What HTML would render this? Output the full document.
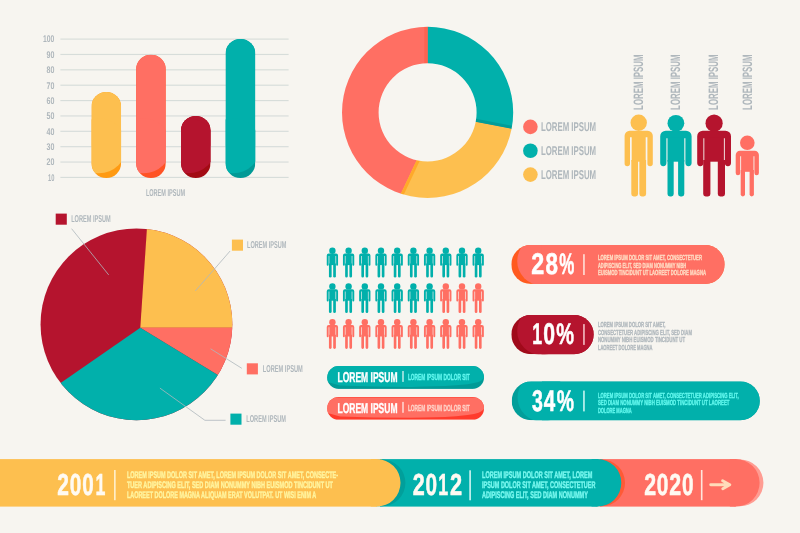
<!DOCTYPE html>
<html><head><meta charset="utf-8"><title>Infographic</title>
<style>
html,body{margin:0;padding:0;background:#f7f5f0;}
body{width:800px;height:533px;overflow:hidden;}
svg{display:block;will-change:transform;text-rendering:geometricPrecision;font-family:"Liberation Sans",sans-serif;font-weight:bold;}
</style></head><body>
<svg width="800" height="533" viewBox="0 0 800 533">
<rect width="800" height="533" fill="#f7f5f0"/>
<g opacity="0.999">
<rect x="60.4" y="38.52" width="228.2" height="1.15" fill="#d7ddda"/>
<text x="43.1" y="42.4" font-size="9.7" fill="#afb7bc" textLength="11.3" lengthAdjust="spacingAndGlyphs">100</text>
<rect x="60.4" y="53.89" width="228.2" height="1.15" fill="#d7ddda"/>
<text x="46.5" y="57.77" font-size="9.7" fill="#afb7bc" textLength="7.9" lengthAdjust="spacingAndGlyphs">90</text>
<rect x="60.4" y="69.26" width="228.2" height="1.15" fill="#d7ddda"/>
<text x="46.5" y="73.14" font-size="9.7" fill="#afb7bc" textLength="7.9" lengthAdjust="spacingAndGlyphs">80</text>
<rect x="60.4" y="84.63" width="228.2" height="1.15" fill="#d7ddda"/>
<text x="46.5" y="88.51" font-size="9.7" fill="#afb7bc" textLength="7.9" lengthAdjust="spacingAndGlyphs">70</text>
<rect x="60.4" y="100.00" width="228.2" height="1.15" fill="#d7ddda"/>
<text x="46.5" y="103.88" font-size="9.7" fill="#afb7bc" textLength="7.9" lengthAdjust="spacingAndGlyphs">60</text>
<rect x="60.4" y="115.37" width="228.2" height="1.15" fill="#d7ddda"/>
<text x="46.5" y="119.25" font-size="9.7" fill="#afb7bc" textLength="7.9" lengthAdjust="spacingAndGlyphs">50</text>
<rect x="60.4" y="130.74" width="228.2" height="1.15" fill="#d7ddda"/>
<text x="46.5" y="134.62" font-size="9.7" fill="#afb7bc" textLength="7.9" lengthAdjust="spacingAndGlyphs">40</text>
<rect x="60.4" y="146.11" width="228.2" height="1.15" fill="#d7ddda"/>
<text x="46.5" y="149.99" font-size="9.7" fill="#afb7bc" textLength="7.9" lengthAdjust="spacingAndGlyphs">30</text>
<rect x="60.4" y="161.48" width="228.2" height="1.15" fill="#d7ddda"/>
<text x="46.5" y="165.36" font-size="9.7" fill="#afb7bc" textLength="7.9" lengthAdjust="spacingAndGlyphs">20</text>
<rect x="60.4" y="176.85" width="228.2" height="1.15" fill="#d7ddda"/>
<text x="48.0" y="180.73" font-size="9.7" fill="#afb7bc" textLength="6.4" lengthAdjust="spacingAndGlyphs">10</text>
<clipPath id="bc0"><rect x="91.5" y="92.0" width="29.60" height="86.00" rx="14.80"/></clipPath>
<g clip-path="url(#bc0)"><rect x="91.5" y="92.0" width="29.60" height="86.00" fill="#ff9a12"/><rect x="91.5" y="92.0" width="29.60" height="53.80" fill="#fdbf4f"/><circle cx="98.95" cy="145.80" r="27.5" fill="#fdbf4f"/></g>
<clipPath id="bc1"><rect x="136.1" y="54.7" width="29.70" height="123.30" rx="14.85"/></clipPath>
<g clip-path="url(#bc1)"><rect x="136.1" y="54.7" width="29.70" height="123.30" fill="#ff5325"/><rect x="136.1" y="54.7" width="29.70" height="91.10" fill="#ff6f63"/><circle cx="143.60" cy="145.80" r="27.5" fill="#ff6f63"/></g>
<clipPath id="bc2"><rect x="181.0" y="115.9" width="29.60" height="62.10" rx="14.80"/></clipPath>
<g clip-path="url(#bc2)"><rect x="181.0" y="115.9" width="29.60" height="62.10" fill="#a30b14"/><rect x="181.0" y="115.9" width="29.60" height="29.90" fill="#b5142e"/><circle cx="188.45" cy="145.80" r="27.5" fill="#b5142e"/></g>
<clipPath id="bc3"><rect x="225.6" y="39.0" width="29.70" height="139.00" rx="14.85"/></clipPath>
<g clip-path="url(#bc3)"><rect x="225.6" y="39.0" width="29.70" height="139.00" fill="#009a96"/><rect x="225.6" y="39.0" width="29.70" height="106.80" fill="#00b0ab"/><circle cx="233.10" cy="145.80" r="27.5" fill="#00b0ab"/></g>
<text x="145.9" y="196" font-size="10.0" fill="#afb7bc" textLength="39.2" lengthAdjust="spacingAndGlyphs">LOREM IPSUM</text>
<clipPath id="dn"><path d="M342.0,112.4 a85.6,85.6 0 1 0 171.2,0 a85.6,85.6 0 1 0 -171.2,0 Z M378.6,112.4 a49.0,49.0 0 1 1 98.0,0 a49.0,49.0 0 1 1 -98.0,0 Z" clip-rule="evenodd"/></clipPath>
<g clip-path="url(#dn)">
<rect x="340.0" y="24.80000000000001" width="175.2" height="175.2" fill="#ff6f63"/>
<polygon points="427.60,112.40 427.60,-187.60 727.60,-187.60 722.09,169.64" fill="#00b0ab"/>
<polygon points="427.60,112.40 722.09,169.64 727.60,412.40 332.49,338.48 439.30,112.40" fill="#fdbf4f"/>
<rect x="424.3" y="24.80000000000001" width="3.3" height="42.599999999999994" fill="#ff6350"/>
<polygon points="427.60,112.40 722.09,169.64 722.66,166.70 428.17,109.46" fill="#009c98"/>
<polygon points="439.30,112.40 332.49,338.48 335.21,339.76 442.01,113.68" fill="#ffa92a"/>
</g>
<circle cx="530.4" cy="126.85" r="7.3" fill="#ff6f63"/>
<text x="540.9" y="131.25" font-size="12.8" fill="#afb7bc" textLength="55.2" lengthAdjust="spacingAndGlyphs">LOREM IPSUM</text>
<circle cx="530.4" cy="150.75" r="7.3" fill="#00b0ab"/>
<text x="540.9" y="155.15" font-size="12.8" fill="#afb7bc" textLength="55.2" lengthAdjust="spacingAndGlyphs">LOREM IPSUM</text>
<circle cx="530.4" cy="174.6" r="7.3" fill="#fdbf4f"/>
<text x="540.9" y="179.0" font-size="12.8" fill="#afb7bc" textLength="55.2" lengthAdjust="spacingAndGlyphs">LOREM IPSUM</text>
<g fill="#fdbf4f"><circle cx="638.7" cy="122.80" r="8.2"/><path d="M624.60,163.50 V135.83 A5.13,5.13 0 0 1 629.73,130.70 H647.67 A5.13,5.13 0 0 1 652.80,135.83 V163.50 a2.70,2.70 0 0 1 -5.40,0 V137.18 H630.00 V163.50 a2.70,2.70 0 0 1 -5.40,0 Z"/><rect x="631.70" y="136.18" width="14.00" height="25.52"/><path d="M631.30,160.00 H638.05 V194.00 a2.40,2.40 0 0 1 -2.40,2.40 H633.70 a2.40,2.40 0 0 1 -2.40,-2.40 Z"/><path d="M639.35,160.00 H646.10 V194.00 a2.40,2.40 0 0 1 -2.40,2.40 H641.75 a2.40,2.40 0 0 1 -2.40,-2.40 Z"/></g>
<g fill="#00b0ab"><circle cx="675.9" cy="123.30" r="8.4"/><path d="M660.20,163.10 V136.30 A5.60,5.60 0 0 1 665.80,130.70 H686.00 A5.60,5.60 0 0 1 691.60,136.30 V163.10 a3.10,3.10 0 0 1 -6.20,0 V138.14 H666.40 V163.10 a3.10,3.10 0 0 1 -6.20,0 Z"/><rect x="667.50" y="137.14" width="16.80" height="24.56"/><path d="M667.50,160.00 H673.70 V194.00 a2.40,2.40 0 0 1 -2.40,2.40 H669.90 a2.40,2.40 0 0 1 -2.40,-2.40 Z"/><path d="M678.10,160.00 H684.30 V194.00 a2.40,2.40 0 0 1 -2.40,2.40 H680.50 a2.40,2.40 0 0 1 -2.40,-2.40 Z"/></g>
<g fill="#b5142e"><circle cx="714.1" cy="123.20" r="8.6"/><path d="M697.20,163.10 V136.30 A5.60,5.60 0 0 1 702.80,130.70 H725.40 A5.60,5.60 0 0 1 731.00,136.30 V163.10 a3.10,3.10 0 0 1 -6.20,0 V138.14 H703.40 V163.10 a3.10,3.10 0 0 1 -6.20,0 Z"/><rect x="704.30" y="137.14" width="19.60" height="24.56"/><path d="M703.20,160.00 H710.40 V194.00 a2.40,2.40 0 0 1 -2.40,2.40 H705.60 a2.40,2.40 0 0 1 -2.40,-2.40 Z"/><path d="M717.80,160.00 H725.00 V194.00 a2.40,2.40 0 0 1 -2.40,2.40 H720.20 a2.40,2.40 0 0 1 -2.40,-2.40 Z"/></g>
<g fill="#ff6f63"><circle cx="747.3" cy="142.80" r="7.3"/><path d="M735.70,172.95 V155.08 A4.27,4.27 0 0 1 739.97,150.80 H754.62 A4.27,4.27 0 0 1 758.90,155.08 V172.95 a2.25,2.25 0 0 1 -4.50,0 V156.20 H740.20 V172.95 a2.25,2.25 0 0 1 -4.50,0 Z"/><rect x="741.10" y="155.20" width="12.40" height="16.60"/><path d="M740.70,170.10 H745.00 V194.25 a2.15,2.15 0 0 1 -2.15,2.15 H742.85 a2.15,2.15 0 0 1 -2.15,-2.15 Z"/><path d="M749.60,170.10 H753.90 V194.25 a2.15,2.15 0 0 1 -2.15,2.15 H751.75 a2.15,2.15 0 0 1 -2.15,-2.15 Z"/></g>
<g transform="translate(643.0,109.9) rotate(-90)"><text x="0" y="0" font-size="13.6" fill="#afb7bc" textLength="55.4" lengthAdjust="spacingAndGlyphs">LOREM IPSUM</text></g>
<g transform="translate(680.3,109.9) rotate(-90)"><text x="0" y="0" font-size="13.6" fill="#afb7bc" textLength="55.4" lengthAdjust="spacingAndGlyphs">LOREM IPSUM</text></g>
<g transform="translate(718.4,109.9) rotate(-90)"><text x="0" y="0" font-size="13.6" fill="#afb7bc" textLength="55.4" lengthAdjust="spacingAndGlyphs">LOREM IPSUM</text></g>
<g transform="translate(752.0,109.9) rotate(-90)"><text x="0" y="0" font-size="13.6" fill="#afb7bc" textLength="55.4" lengthAdjust="spacingAndGlyphs">LOREM IPSUM</text></g>
<clipPath id="pie"><circle cx="136.45" cy="324.3" r="95.9"/></clipPath>
<g clip-path="url(#pie)">
<rect x="30" y="220" width="220" height="210" fill="#b5142e"/>
<polygon points="140.30,327.80 160.10,31.40 500.00,-100.00 416.60,327.80" fill="#fdbf4f"/>
<polygon points="140.30,327.80 416.60,327.80 500.00,500.00 371.30,468.20" fill="#ff6f63"/>
<polygon points="140.30,327.80 371.30,468.20 300.00,700.00 -100.00,700.00 -97.60,492.50" fill="#00b0ab"/>
</g>
<rect x="55.7" y="213.6" width="11.1" height="11.1" fill="#b5142e"/>
<text x="71.2" y="222" font-size="10.0" fill="#afb7bc" textLength="39.5" lengthAdjust="spacingAndGlyphs">LOREM IPSUM</text>
<rect x="231.9" y="239.6" width="11.1" height="11.1" fill="#fdbf4f"/>
<text x="247.0" y="248" font-size="10.0" fill="#afb7bc" textLength="39.4" lengthAdjust="spacingAndGlyphs">LOREM IPSUM</text>
<rect x="246.8" y="363.3" width="11.1" height="11.1" fill="#ff6f63"/>
<text x="262.8" y="372" font-size="10.0" fill="#afb7bc" textLength="40.0" lengthAdjust="spacingAndGlyphs">LOREM IPSUM</text>
<rect x="230.4" y="413.6" width="11.1" height="11.1" fill="#00b0ab"/>
<text x="246.3" y="422" font-size="10.0" fill="#afb7bc" textLength="39.6" lengthAdjust="spacingAndGlyphs">LOREM IPSUM</text>
<path d="M71.6,228.7 L108.7,274.9" stroke="#afb7bc" stroke-width="0.8" fill="none"/>
<path d="M230.1,251 L195.3,291" stroke="#afb7bc" stroke-width="0.8" fill="none"/>
<path d="M210.6,348.8 L241.8,368.3" stroke="#afb7bc" stroke-width="0.8" fill="none"/>
<path d="M159.9,388.1 L204.9,420.3 H225.6" stroke="#afb7bc" stroke-width="0.8" fill="none"/>
<g fill="#00b0ab"><circle cx="332.4" cy="250.80" r="3.2"/><path d="M326.75,264.85 V255.60 A2.00,2.00 0 0 1 328.75,253.60 H336.05 A2.00,2.00 0 0 1 338.05,255.60 V264.85 a0.95,0.95 0 0 1 -1.90,0 V255.88 H328.65 V264.85 a0.95,0.95 0 0 1 -1.90,0 Z"/><rect x="329.30" y="254.88" width="6.20" height="10.22"/><path d="M328.95,263.40 H331.60 V276.18 a1.33,1.33 0 0 1 -1.33,1.33 H330.27 a1.33,1.33 0 0 1 -1.33,-1.33 Z"/><path d="M333.20,263.40 H335.85 V276.18 a1.33,1.33 0 0 1 -1.33,1.33 H334.52 a1.33,1.33 0 0 1 -1.33,-1.33 Z"/></g>
<g fill="#00b0ab"><circle cx="348.6" cy="250.80" r="3.2"/><path d="M342.95,264.85 V255.60 A2.00,2.00 0 0 1 344.95,253.60 H352.25 A2.00,2.00 0 0 1 354.25,255.60 V264.85 a0.95,0.95 0 0 1 -1.90,0 V255.88 H344.85 V264.85 a0.95,0.95 0 0 1 -1.90,0 Z"/><rect x="345.50" y="254.88" width="6.20" height="10.22"/><path d="M345.15,263.40 H347.80 V276.18 a1.33,1.33 0 0 1 -1.33,1.33 H346.48 a1.33,1.33 0 0 1 -1.33,-1.33 Z"/><path d="M349.40,263.40 H352.05 V276.18 a1.33,1.33 0 0 1 -1.33,1.33 H350.73 a1.33,1.33 0 0 1 -1.33,-1.33 Z"/></g>
<g fill="#00b0ab"><circle cx="364.8" cy="250.80" r="3.2"/><path d="M359.15,264.85 V255.60 A2.00,2.00 0 0 1 361.15,253.60 H368.45 A2.00,2.00 0 0 1 370.45,255.60 V264.85 a0.95,0.95 0 0 1 -1.90,0 V255.88 H361.05 V264.85 a0.95,0.95 0 0 1 -1.90,0 Z"/><rect x="361.70" y="254.88" width="6.20" height="10.22"/><path d="M361.35,263.40 H364.00 V276.18 a1.33,1.33 0 0 1 -1.33,1.33 H362.68 a1.33,1.33 0 0 1 -1.33,-1.33 Z"/><path d="M365.60,263.40 H368.25 V276.18 a1.33,1.33 0 0 1 -1.33,1.33 H366.93 a1.33,1.33 0 0 1 -1.33,-1.33 Z"/></g>
<g fill="#00b0ab"><circle cx="381.0" cy="250.80" r="3.2"/><path d="M375.35,264.85 V255.60 A2.00,2.00 0 0 1 377.35,253.60 H384.65 A2.00,2.00 0 0 1 386.65,255.60 V264.85 a0.95,0.95 0 0 1 -1.90,0 V255.88 H377.25 V264.85 a0.95,0.95 0 0 1 -1.90,0 Z"/><rect x="377.90" y="254.88" width="6.20" height="10.22"/><path d="M377.55,263.40 H380.20 V276.18 a1.33,1.33 0 0 1 -1.33,1.33 H378.88 a1.33,1.33 0 0 1 -1.33,-1.33 Z"/><path d="M381.80,263.40 H384.45 V276.18 a1.33,1.33 0 0 1 -1.33,1.33 H383.12 a1.33,1.33 0 0 1 -1.33,-1.33 Z"/></g>
<g fill="#00b0ab"><circle cx="397.2" cy="250.80" r="3.2"/><path d="M391.55,264.85 V255.60 A2.00,2.00 0 0 1 393.55,253.60 H400.85 A2.00,2.00 0 0 1 402.85,255.60 V264.85 a0.95,0.95 0 0 1 -1.90,0 V255.88 H393.45 V264.85 a0.95,0.95 0 0 1 -1.90,0 Z"/><rect x="394.10" y="254.88" width="6.20" height="10.22"/><path d="M393.75,263.40 H396.40 V276.18 a1.33,1.33 0 0 1 -1.33,1.33 H395.07 a1.33,1.33 0 0 1 -1.33,-1.33 Z"/><path d="M398.00,263.40 H400.65 V276.18 a1.33,1.33 0 0 1 -1.33,1.33 H399.32 a1.33,1.33 0 0 1 -1.33,-1.33 Z"/></g>
<g fill="#00b0ab"><circle cx="413.4" cy="250.80" r="3.2"/><path d="M407.75,264.85 V255.60 A2.00,2.00 0 0 1 409.75,253.60 H417.05 A2.00,2.00 0 0 1 419.05,255.60 V264.85 a0.95,0.95 0 0 1 -1.90,0 V255.88 H409.65 V264.85 a0.95,0.95 0 0 1 -1.90,0 Z"/><rect x="410.30" y="254.88" width="6.20" height="10.22"/><path d="M409.95,263.40 H412.60 V276.18 a1.33,1.33 0 0 1 -1.33,1.33 H411.27 a1.33,1.33 0 0 1 -1.33,-1.33 Z"/><path d="M414.20,263.40 H416.85 V276.18 a1.33,1.33 0 0 1 -1.33,1.33 H415.52 a1.33,1.33 0 0 1 -1.33,-1.33 Z"/></g>
<g fill="#00b0ab"><circle cx="429.6" cy="250.80" r="3.2"/><path d="M423.95,264.85 V255.60 A2.00,2.00 0 0 1 425.95,253.60 H433.25 A2.00,2.00 0 0 1 435.25,255.60 V264.85 a0.95,0.95 0 0 1 -1.90,0 V255.88 H425.85 V264.85 a0.95,0.95 0 0 1 -1.90,0 Z"/><rect x="426.50" y="254.88" width="6.20" height="10.22"/><path d="M426.15,263.40 H428.80 V276.18 a1.33,1.33 0 0 1 -1.33,1.33 H427.48 a1.33,1.33 0 0 1 -1.33,-1.33 Z"/><path d="M430.40,263.40 H433.05 V276.18 a1.33,1.33 0 0 1 -1.33,1.33 H431.73 a1.33,1.33 0 0 1 -1.33,-1.33 Z"/></g>
<g fill="#00b0ab"><circle cx="445.8" cy="250.80" r="3.2"/><path d="M440.15,264.85 V255.60 A2.00,2.00 0 0 1 442.15,253.60 H449.45 A2.00,2.00 0 0 1 451.45,255.60 V264.85 a0.95,0.95 0 0 1 -1.90,0 V255.88 H442.05 V264.85 a0.95,0.95 0 0 1 -1.90,0 Z"/><rect x="442.70" y="254.88" width="6.20" height="10.22"/><path d="M442.35,263.40 H445.00 V276.18 a1.33,1.33 0 0 1 -1.33,1.33 H443.68 a1.33,1.33 0 0 1 -1.33,-1.33 Z"/><path d="M446.60,263.40 H449.25 V276.18 a1.33,1.33 0 0 1 -1.33,1.33 H447.93 a1.33,1.33 0 0 1 -1.33,-1.33 Z"/></g>
<g fill="#00b0ab"><circle cx="462.0" cy="250.80" r="3.2"/><path d="M456.35,264.85 V255.60 A2.00,2.00 0 0 1 458.35,253.60 H465.65 A2.00,2.00 0 0 1 467.65,255.60 V264.85 a0.95,0.95 0 0 1 -1.90,0 V255.88 H458.25 V264.85 a0.95,0.95 0 0 1 -1.90,0 Z"/><rect x="458.90" y="254.88" width="6.20" height="10.22"/><path d="M458.55,263.40 H461.20 V276.18 a1.33,1.33 0 0 1 -1.33,1.33 H459.88 a1.33,1.33 0 0 1 -1.33,-1.33 Z"/><path d="M462.80,263.40 H465.45 V276.18 a1.33,1.33 0 0 1 -1.33,1.33 H464.12 a1.33,1.33 0 0 1 -1.33,-1.33 Z"/></g>
<g fill="#00b0ab"><circle cx="478.2" cy="250.80" r="3.2"/><path d="M472.55,264.85 V255.60 A2.00,2.00 0 0 1 474.55,253.60 H481.85 A2.00,2.00 0 0 1 483.85,255.60 V264.85 a0.95,0.95 0 0 1 -1.90,0 V255.88 H474.45 V264.85 a0.95,0.95 0 0 1 -1.90,0 Z"/><rect x="475.10" y="254.88" width="6.20" height="10.22"/><path d="M474.75,263.40 H477.40 V276.18 a1.33,1.33 0 0 1 -1.33,1.33 H476.07 a1.33,1.33 0 0 1 -1.33,-1.33 Z"/><path d="M479.00,263.40 H481.65 V276.18 a1.33,1.33 0 0 1 -1.33,1.33 H480.32 a1.33,1.33 0 0 1 -1.33,-1.33 Z"/></g>
<g fill="#00b0ab"><circle cx="332.4" cy="286.40" r="3.2"/><path d="M326.75,300.45 V291.20 A2.00,2.00 0 0 1 328.75,289.20 H336.05 A2.00,2.00 0 0 1 338.05,291.20 V300.45 a0.95,0.95 0 0 1 -1.90,0 V291.48 H328.65 V300.45 a0.95,0.95 0 0 1 -1.90,0 Z"/><rect x="329.30" y="290.48" width="6.20" height="10.22"/><path d="M328.95,299.00 H331.60 V311.77 a1.33,1.33 0 0 1 -1.33,1.33 H330.27 a1.33,1.33 0 0 1 -1.33,-1.33 Z"/><path d="M333.20,299.00 H335.85 V311.77 a1.33,1.33 0 0 1 -1.33,1.33 H334.52 a1.33,1.33 0 0 1 -1.33,-1.33 Z"/></g>
<g fill="#00b0ab"><circle cx="348.6" cy="286.40" r="3.2"/><path d="M342.95,300.45 V291.20 A2.00,2.00 0 0 1 344.95,289.20 H352.25 A2.00,2.00 0 0 1 354.25,291.20 V300.45 a0.95,0.95 0 0 1 -1.90,0 V291.48 H344.85 V300.45 a0.95,0.95 0 0 1 -1.90,0 Z"/><rect x="345.50" y="290.48" width="6.20" height="10.22"/><path d="M345.15,299.00 H347.80 V311.77 a1.33,1.33 0 0 1 -1.33,1.33 H346.48 a1.33,1.33 0 0 1 -1.33,-1.33 Z"/><path d="M349.40,299.00 H352.05 V311.77 a1.33,1.33 0 0 1 -1.33,1.33 H350.73 a1.33,1.33 0 0 1 -1.33,-1.33 Z"/></g>
<g fill="#00b0ab"><circle cx="364.8" cy="286.40" r="3.2"/><path d="M359.15,300.45 V291.20 A2.00,2.00 0 0 1 361.15,289.20 H368.45 A2.00,2.00 0 0 1 370.45,291.20 V300.45 a0.95,0.95 0 0 1 -1.90,0 V291.48 H361.05 V300.45 a0.95,0.95 0 0 1 -1.90,0 Z"/><rect x="361.70" y="290.48" width="6.20" height="10.22"/><path d="M361.35,299.00 H364.00 V311.77 a1.33,1.33 0 0 1 -1.33,1.33 H362.68 a1.33,1.33 0 0 1 -1.33,-1.33 Z"/><path d="M365.60,299.00 H368.25 V311.77 a1.33,1.33 0 0 1 -1.33,1.33 H366.93 a1.33,1.33 0 0 1 -1.33,-1.33 Z"/></g>
<g fill="#00b0ab"><circle cx="381.0" cy="286.40" r="3.2"/><path d="M375.35,300.45 V291.20 A2.00,2.00 0 0 1 377.35,289.20 H384.65 A2.00,2.00 0 0 1 386.65,291.20 V300.45 a0.95,0.95 0 0 1 -1.90,0 V291.48 H377.25 V300.45 a0.95,0.95 0 0 1 -1.90,0 Z"/><rect x="377.90" y="290.48" width="6.20" height="10.22"/><path d="M377.55,299.00 H380.20 V311.77 a1.33,1.33 0 0 1 -1.33,1.33 H378.88 a1.33,1.33 0 0 1 -1.33,-1.33 Z"/><path d="M381.80,299.00 H384.45 V311.77 a1.33,1.33 0 0 1 -1.33,1.33 H383.12 a1.33,1.33 0 0 1 -1.33,-1.33 Z"/></g>
<g fill="#00b0ab"><circle cx="397.2" cy="286.40" r="3.2"/><path d="M391.55,300.45 V291.20 A2.00,2.00 0 0 1 393.55,289.20 H400.85 A2.00,2.00 0 0 1 402.85,291.20 V300.45 a0.95,0.95 0 0 1 -1.90,0 V291.48 H393.45 V300.45 a0.95,0.95 0 0 1 -1.90,0 Z"/><rect x="394.10" y="290.48" width="6.20" height="10.22"/><path d="M393.75,299.00 H396.40 V311.77 a1.33,1.33 0 0 1 -1.33,1.33 H395.07 a1.33,1.33 0 0 1 -1.33,-1.33 Z"/><path d="M398.00,299.00 H400.65 V311.77 a1.33,1.33 0 0 1 -1.33,1.33 H399.32 a1.33,1.33 0 0 1 -1.33,-1.33 Z"/></g>
<g fill="#00b0ab"><circle cx="413.4" cy="286.40" r="3.2"/><path d="M407.75,300.45 V291.20 A2.00,2.00 0 0 1 409.75,289.20 H417.05 A2.00,2.00 0 0 1 419.05,291.20 V300.45 a0.95,0.95 0 0 1 -1.90,0 V291.48 H409.65 V300.45 a0.95,0.95 0 0 1 -1.90,0 Z"/><rect x="410.30" y="290.48" width="6.20" height="10.22"/><path d="M409.95,299.00 H412.60 V311.77 a1.33,1.33 0 0 1 -1.33,1.33 H411.27 a1.33,1.33 0 0 1 -1.33,-1.33 Z"/><path d="M414.20,299.00 H416.85 V311.77 a1.33,1.33 0 0 1 -1.33,1.33 H415.52 a1.33,1.33 0 0 1 -1.33,-1.33 Z"/></g>
<g fill="#00b0ab"><circle cx="429.6" cy="286.40" r="3.2"/><path d="M423.95,300.45 V291.20 A2.00,2.00 0 0 1 425.95,289.20 H433.25 A2.00,2.00 0 0 1 435.25,291.20 V300.45 a0.95,0.95 0 0 1 -1.90,0 V291.48 H425.85 V300.45 a0.95,0.95 0 0 1 -1.90,0 Z"/><rect x="426.50" y="290.48" width="6.20" height="10.22"/><path d="M426.15,299.00 H428.80 V311.77 a1.33,1.33 0 0 1 -1.33,1.33 H427.48 a1.33,1.33 0 0 1 -1.33,-1.33 Z"/><path d="M430.40,299.00 H433.05 V311.77 a1.33,1.33 0 0 1 -1.33,1.33 H431.73 a1.33,1.33 0 0 1 -1.33,-1.33 Z"/></g>
<g fill="#ff6f63"><circle cx="445.8" cy="286.40" r="3.2"/><path d="M440.15,300.45 V291.20 A2.00,2.00 0 0 1 442.15,289.20 H449.45 A2.00,2.00 0 0 1 451.45,291.20 V300.45 a0.95,0.95 0 0 1 -1.90,0 V291.48 H442.05 V300.45 a0.95,0.95 0 0 1 -1.90,0 Z"/><rect x="442.70" y="290.48" width="6.20" height="10.22"/><path d="M442.35,299.00 H445.00 V311.77 a1.33,1.33 0 0 1 -1.33,1.33 H443.68 a1.33,1.33 0 0 1 -1.33,-1.33 Z"/><path d="M446.60,299.00 H449.25 V311.77 a1.33,1.33 0 0 1 -1.33,1.33 H447.93 a1.33,1.33 0 0 1 -1.33,-1.33 Z"/></g>
<g fill="#ff6f63"><circle cx="462.0" cy="286.40" r="3.2"/><path d="M456.35,300.45 V291.20 A2.00,2.00 0 0 1 458.35,289.20 H465.65 A2.00,2.00 0 0 1 467.65,291.20 V300.45 a0.95,0.95 0 0 1 -1.90,0 V291.48 H458.25 V300.45 a0.95,0.95 0 0 1 -1.90,0 Z"/><rect x="458.90" y="290.48" width="6.20" height="10.22"/><path d="M458.55,299.00 H461.20 V311.77 a1.33,1.33 0 0 1 -1.33,1.33 H459.88 a1.33,1.33 0 0 1 -1.33,-1.33 Z"/><path d="M462.80,299.00 H465.45 V311.77 a1.33,1.33 0 0 1 -1.33,1.33 H464.12 a1.33,1.33 0 0 1 -1.33,-1.33 Z"/></g>
<g fill="#ff6f63"><circle cx="478.2" cy="286.40" r="3.2"/><path d="M472.55,300.45 V291.20 A2.00,2.00 0 0 1 474.55,289.20 H481.85 A2.00,2.00 0 0 1 483.85,291.20 V300.45 a0.95,0.95 0 0 1 -1.90,0 V291.48 H474.45 V300.45 a0.95,0.95 0 0 1 -1.90,0 Z"/><rect x="475.10" y="290.48" width="6.20" height="10.22"/><path d="M474.75,299.00 H477.40 V311.77 a1.33,1.33 0 0 1 -1.33,1.33 H476.07 a1.33,1.33 0 0 1 -1.33,-1.33 Z"/><path d="M479.00,299.00 H481.65 V311.77 a1.33,1.33 0 0 1 -1.33,1.33 H480.32 a1.33,1.33 0 0 1 -1.33,-1.33 Z"/></g>
<g fill="#ff6f63"><circle cx="332.4" cy="322.20" r="3.2"/><path d="M326.75,336.25 V327.00 A2.00,2.00 0 0 1 328.75,325.00 H336.05 A2.00,2.00 0 0 1 338.05,327.00 V336.25 a0.95,0.95 0 0 1 -1.90,0 V327.28 H328.65 V336.25 a0.95,0.95 0 0 1 -1.90,0 Z"/><rect x="329.30" y="326.28" width="6.20" height="10.22"/><path d="M328.95,334.80 H331.60 V347.57 a1.33,1.33 0 0 1 -1.33,1.33 H330.27 a1.33,1.33 0 0 1 -1.33,-1.33 Z"/><path d="M333.20,334.80 H335.85 V347.57 a1.33,1.33 0 0 1 -1.33,1.33 H334.52 a1.33,1.33 0 0 1 -1.33,-1.33 Z"/></g>
<g fill="#ff6f63"><circle cx="348.6" cy="322.20" r="3.2"/><path d="M342.95,336.25 V327.00 A2.00,2.00 0 0 1 344.95,325.00 H352.25 A2.00,2.00 0 0 1 354.25,327.00 V336.25 a0.95,0.95 0 0 1 -1.90,0 V327.28 H344.85 V336.25 a0.95,0.95 0 0 1 -1.90,0 Z"/><rect x="345.50" y="326.28" width="6.20" height="10.22"/><path d="M345.15,334.80 H347.80 V347.57 a1.33,1.33 0 0 1 -1.33,1.33 H346.48 a1.33,1.33 0 0 1 -1.33,-1.33 Z"/><path d="M349.40,334.80 H352.05 V347.57 a1.33,1.33 0 0 1 -1.33,1.33 H350.73 a1.33,1.33 0 0 1 -1.33,-1.33 Z"/></g>
<g fill="#ff6f63"><circle cx="364.8" cy="322.20" r="3.2"/><path d="M359.15,336.25 V327.00 A2.00,2.00 0 0 1 361.15,325.00 H368.45 A2.00,2.00 0 0 1 370.45,327.00 V336.25 a0.95,0.95 0 0 1 -1.90,0 V327.28 H361.05 V336.25 a0.95,0.95 0 0 1 -1.90,0 Z"/><rect x="361.70" y="326.28" width="6.20" height="10.22"/><path d="M361.35,334.80 H364.00 V347.57 a1.33,1.33 0 0 1 -1.33,1.33 H362.68 a1.33,1.33 0 0 1 -1.33,-1.33 Z"/><path d="M365.60,334.80 H368.25 V347.57 a1.33,1.33 0 0 1 -1.33,1.33 H366.93 a1.33,1.33 0 0 1 -1.33,-1.33 Z"/></g>
<g fill="#ff6f63"><circle cx="381.0" cy="322.20" r="3.2"/><path d="M375.35,336.25 V327.00 A2.00,2.00 0 0 1 377.35,325.00 H384.65 A2.00,2.00 0 0 1 386.65,327.00 V336.25 a0.95,0.95 0 0 1 -1.90,0 V327.28 H377.25 V336.25 a0.95,0.95 0 0 1 -1.90,0 Z"/><rect x="377.90" y="326.28" width="6.20" height="10.22"/><path d="M377.55,334.80 H380.20 V347.57 a1.33,1.33 0 0 1 -1.33,1.33 H378.88 a1.33,1.33 0 0 1 -1.33,-1.33 Z"/><path d="M381.80,334.80 H384.45 V347.57 a1.33,1.33 0 0 1 -1.33,1.33 H383.12 a1.33,1.33 0 0 1 -1.33,-1.33 Z"/></g>
<g fill="#ff6f63"><circle cx="397.2" cy="322.20" r="3.2"/><path d="M391.55,336.25 V327.00 A2.00,2.00 0 0 1 393.55,325.00 H400.85 A2.00,2.00 0 0 1 402.85,327.00 V336.25 a0.95,0.95 0 0 1 -1.90,0 V327.28 H393.45 V336.25 a0.95,0.95 0 0 1 -1.90,0 Z"/><rect x="394.10" y="326.28" width="6.20" height="10.22"/><path d="M393.75,334.80 H396.40 V347.57 a1.33,1.33 0 0 1 -1.33,1.33 H395.07 a1.33,1.33 0 0 1 -1.33,-1.33 Z"/><path d="M398.00,334.80 H400.65 V347.57 a1.33,1.33 0 0 1 -1.33,1.33 H399.32 a1.33,1.33 0 0 1 -1.33,-1.33 Z"/></g>
<g fill="#ff6f63"><circle cx="413.4" cy="322.20" r="3.2"/><path d="M407.75,336.25 V327.00 A2.00,2.00 0 0 1 409.75,325.00 H417.05 A2.00,2.00 0 0 1 419.05,327.00 V336.25 a0.95,0.95 0 0 1 -1.90,0 V327.28 H409.65 V336.25 a0.95,0.95 0 0 1 -1.90,0 Z"/><rect x="410.30" y="326.28" width="6.20" height="10.22"/><path d="M409.95,334.80 H412.60 V347.57 a1.33,1.33 0 0 1 -1.33,1.33 H411.27 a1.33,1.33 0 0 1 -1.33,-1.33 Z"/><path d="M414.20,334.80 H416.85 V347.57 a1.33,1.33 0 0 1 -1.33,1.33 H415.52 a1.33,1.33 0 0 1 -1.33,-1.33 Z"/></g>
<g fill="#ff6f63"><circle cx="429.6" cy="322.20" r="3.2"/><path d="M423.95,336.25 V327.00 A2.00,2.00 0 0 1 425.95,325.00 H433.25 A2.00,2.00 0 0 1 435.25,327.00 V336.25 a0.95,0.95 0 0 1 -1.90,0 V327.28 H425.85 V336.25 a0.95,0.95 0 0 1 -1.90,0 Z"/><rect x="426.50" y="326.28" width="6.20" height="10.22"/><path d="M426.15,334.80 H428.80 V347.57 a1.33,1.33 0 0 1 -1.33,1.33 H427.48 a1.33,1.33 0 0 1 -1.33,-1.33 Z"/><path d="M430.40,334.80 H433.05 V347.57 a1.33,1.33 0 0 1 -1.33,1.33 H431.73 a1.33,1.33 0 0 1 -1.33,-1.33 Z"/></g>
<g fill="#ff6f63"><circle cx="445.8" cy="322.20" r="3.2"/><path d="M440.15,336.25 V327.00 A2.00,2.00 0 0 1 442.15,325.00 H449.45 A2.00,2.00 0 0 1 451.45,327.00 V336.25 a0.95,0.95 0 0 1 -1.90,0 V327.28 H442.05 V336.25 a0.95,0.95 0 0 1 -1.90,0 Z"/><rect x="442.70" y="326.28" width="6.20" height="10.22"/><path d="M442.35,334.80 H445.00 V347.57 a1.33,1.33 0 0 1 -1.33,1.33 H443.68 a1.33,1.33 0 0 1 -1.33,-1.33 Z"/><path d="M446.60,334.80 H449.25 V347.57 a1.33,1.33 0 0 1 -1.33,1.33 H447.93 a1.33,1.33 0 0 1 -1.33,-1.33 Z"/></g>
<g fill="#ff6f63"><circle cx="462.0" cy="322.20" r="3.2"/><path d="M456.35,336.25 V327.00 A2.00,2.00 0 0 1 458.35,325.00 H465.65 A2.00,2.00 0 0 1 467.65,327.00 V336.25 a0.95,0.95 0 0 1 -1.90,0 V327.28 H458.25 V336.25 a0.95,0.95 0 0 1 -1.90,0 Z"/><rect x="458.90" y="326.28" width="6.20" height="10.22"/><path d="M458.55,334.80 H461.20 V347.57 a1.33,1.33 0 0 1 -1.33,1.33 H459.88 a1.33,1.33 0 0 1 -1.33,-1.33 Z"/><path d="M462.80,334.80 H465.45 V347.57 a1.33,1.33 0 0 1 -1.33,1.33 H464.12 a1.33,1.33 0 0 1 -1.33,-1.33 Z"/></g>
<g fill="#ff6f63"><circle cx="478.2" cy="322.20" r="3.2"/><path d="M472.55,336.25 V327.00 A2.00,2.00 0 0 1 474.55,325.00 H481.85 A2.00,2.00 0 0 1 483.85,327.00 V336.25 a0.95,0.95 0 0 1 -1.90,0 V327.28 H474.45 V336.25 a0.95,0.95 0 0 1 -1.90,0 Z"/><rect x="475.10" y="326.28" width="6.20" height="10.22"/><path d="M474.75,334.80 H477.40 V347.57 a1.33,1.33 0 0 1 -1.33,1.33 H476.07 a1.33,1.33 0 0 1 -1.33,-1.33 Z"/><path d="M479.00,334.80 H481.65 V347.57 a1.33,1.33 0 0 1 -1.33,1.33 H480.32 a1.33,1.33 0 0 1 -1.33,-1.33 Z"/></g>
<clipPath id="sp0"><rect x="327.2" y="366.1" width="156.80" height="22.8" rx="11.4"/></clipPath><g clip-path="url(#sp0)"><rect x="327.2" y="366.1" width="156.80" height="22.8" fill="#009a96"/><polygon points="326.20,365.10 485.00,365.10 485.00,376.60 483.00,379.10 481.00,380.70 478.50,381.90 474.00,383.10 467.50,384.20 456.00,385.30 445.00,386.00 424.00,386.60 411.00,386.90 374.00,386.50 340.00,385.50 331.20,383.10 326.20,381.90" fill="#00b0ab"/></g><text x="337.5" y="382.0" font-size="14.3" fill="#ffffff" stroke="#ffffff" stroke-width="0.4" textLength="60.0" lengthAdjust="spacingAndGlyphs">LOREM IPSUM</text><rect x="402.3" y="371.00" width="1.4" height="10.9" fill="#ffffff" opacity="0.8"/><text x="407.9" y="380.0" font-size="8.85" fill="#62f8ef" stroke="#62f8ef" stroke-width="0.3" textLength="61.9" lengthAdjust="spacingAndGlyphs">LOREM IPSUM DOLOR SIT</text>
<clipPath id="sp1"><rect x="327.2" y="397.0" width="156.80" height="22.8" rx="11.4"/></clipPath><g clip-path="url(#sp1)"><rect x="327.2" y="397.0" width="156.80" height="22.8" fill="#ff3b2c"/><polygon points="326.20,397.60 485.00,397.60 485.00,407.50 483.00,410.00 481.00,411.60 478.50,412.80 474.00,414.00 467.50,415.10 456.00,416.20 445.00,416.90 424.00,417.50 411.00,417.80 374.00,417.40 340.00,416.40 331.20,414.00 326.20,412.80" fill="#ff6f63"/></g><text x="337.5" y="412.9" font-size="14.3" fill="#ffffff" stroke="#ffffff" stroke-width="0.4" textLength="60.0" lengthAdjust="spacingAndGlyphs">LOREM IPSUM</text><rect x="402.3" y="401.90" width="1.4" height="10.9" fill="#ffffff" opacity="0.8"/><text x="407.9" y="410.9" font-size="8.85" fill="#ffd2c8" stroke="#ffd2c8" stroke-width="0.3" textLength="61.9" lengthAdjust="spacingAndGlyphs">LOREM IPSUM DOLOR SIT</text>
<clipPath id="pp0"><rect x="511.3" y="245.1" width="213.30" height="38.80" rx="19.40"/></clipPath><g clip-path="url(#pp0)"><rect x="511.3" y="245.1" width="213.30" height="38.80" fill="#ff5a1f"/><circle cx="541.50" cy="261.00" r="24.3" fill="#ff6f63"/><rect x="541.50" y="244.1" width="213.30" height="40.80" fill="#ff6f63"/></g><text transform="translate(531.23,274.3) scale(0.7803,1)" font-size="29.9" fill="#ffffff" stroke="#ffffff" stroke-width="0.6">2</text><text transform="translate(545.51,274.3) scale(0.7487,1)" font-size="29.9" fill="#ffffff" stroke="#ffffff" stroke-width="0.6">8</text><text transform="translate(559.25,274.3) scale(0.5652,1)" font-size="29.9" fill="#ffffff" stroke="#ffffff" stroke-width="0.6">%</text><rect x="583.15" y="254.20" width="1.6" height="20.8" fill="#ffe0d8"/><text x="597.9" y="260" font-size="7.4" fill="#ffdcc4" stroke="#ffdcc4" stroke-width="0.3" textLength="104.1" lengthAdjust="spacingAndGlyphs">LOREM IPSUM DOLOR SIT AMET, CONSECTETUER</text><text x="597.9" y="268" font-size="7.4" fill="#ffdcc4" stroke="#ffdcc4" stroke-width="0.3" textLength="88.4" lengthAdjust="spacingAndGlyphs">ADIPISCING ELIT, SED DIAM NONUMMY NIBH</text><text x="597.9" y="275" font-size="7.4" fill="#ffdcc4" stroke="#ffdcc4" stroke-width="0.3" textLength="108.1" lengthAdjust="spacingAndGlyphs">EUISMOD TINCIDUNT UT LAOREET DOLORE MAGNA</text>
<clipPath id="pp1"><rect x="511.3" y="315.0" width="82.40" height="39.20" rx="19.60"/></clipPath><g clip-path="url(#pp1)"><rect x="511.3" y="315.0" width="82.40" height="39.20" fill="#a00a1a"/><circle cx="541.50" cy="330.90" r="24.3" fill="#b5142e"/><rect x="541.50" y="314.0" width="82.40" height="41.20" fill="#b5142e"/></g><text transform="translate(532.31,344.2) scale(0.5926,1)" font-size="29.9" fill="#ffffff" stroke="#ffffff" stroke-width="0.6">1</text><text transform="translate(543.17,344.2) scale(0.7085,1)" font-size="29.9" fill="#ffffff" stroke="#ffffff" stroke-width="0.6">0</text><text transform="translate(556.20,344.2) scale(0.6666,1)" font-size="29.9" fill="#ffffff" stroke="#ffffff" stroke-width="0.6">%</text><rect x="583.15" y="324.10" width="1.6" height="20.8" fill="#f3bcc2"/><text x="597.9" y="327" font-size="7.4" fill="#afb7bc" stroke="#afb7bc" stroke-width="0.3" textLength="67.6" lengthAdjust="spacingAndGlyphs">LOREM IPSUM DOLOR SIT AMET,</text><text x="597.9" y="335" font-size="7.4" fill="#afb7bc" stroke="#afb7bc" stroke-width="0.3" textLength="94.1" lengthAdjust="spacingAndGlyphs">CONSECTETUER ADIPISCING ELIT, SED DIAM</text><text x="597.9" y="342" font-size="7.4" fill="#afb7bc" stroke="#afb7bc" stroke-width="0.3" textLength="87.2" lengthAdjust="spacingAndGlyphs">NONUMMY NIBH EUISMOD TINCIDUNT UT</text><text x="597.9" y="349.6" font-size="7.4" fill="#afb7bc" stroke="#afb7bc" stroke-width="0.3" textLength="54.6" lengthAdjust="spacingAndGlyphs">LAOREET DOLORE MAGNA</text>
<clipPath id="pp2"><rect x="511.7" y="381.5" width="248.10" height="38.80" rx="19.40"/></clipPath><g clip-path="url(#pp2)"><rect x="511.7" y="381.5" width="248.10" height="38.80" fill="#009e9a"/><circle cx="541.90" cy="397.40" r="24.3" fill="#00b0ab"/><rect x="541.90" y="380.5" width="248.10" height="40.80" fill="#00b0ab"/></g><text transform="translate(531.95,410.7) scale(0.6532,1)" font-size="29.9" fill="#ffffff" stroke="#ffffff" stroke-width="0.6">3</text><text transform="translate(543.70,410.7) scale(0.6861,1)" font-size="29.9" fill="#ffffff" stroke="#ffffff" stroke-width="0.6">4</text><text transform="translate(556.71,410.7) scale(0.6471,1)" font-size="29.9" fill="#ffffff" stroke="#ffffff" stroke-width="0.6">%</text><rect x="583.15" y="390.60" width="1.6" height="20.8" fill="#c6f5f1"/><text x="597.9" y="398" font-size="7.4" fill="#62f8ee" stroke="#62f8ee" stroke-width="0.3" textLength="140.7" lengthAdjust="spacingAndGlyphs">LOREM IPSUM DOLOR SIT AMET, CONSECTETUER ADIPISCING ELIT,</text><text x="597.9" y="405" font-size="7.4" fill="#62f8ee" stroke="#62f8ee" stroke-width="0.3" textLength="131.6" lengthAdjust="spacingAndGlyphs">SED DIAM NONUMMY NIBH EUISMOD TINCIDUNT UT LAOREET</text><text x="597.9" y="413" font-size="7.4" fill="#62f8ee" stroke="#62f8ee" stroke-width="0.3" textLength="33.8" lengthAdjust="spacingAndGlyphs">DOLORE MAGNA</text>
<path d="M734.05,459.45000000000005 H740.05 A23.40,23.40 0 0 1 740.05,506.25 H734.05 Z" fill="#ff9c92"/>
<rect x="600" y="459.1" width="135.85" height="47.50" fill="#ff6f63"/>
<path d="M729.85,459.1 H735.85 A23.75,23.75 0 0 1 735.85,506.6 H729.85 Z" fill="#ff6f63"/>
<path d="M595.65,459.45000000000005 H601.65 A23.40,23.40 0 0 1 601.65,506.25 H595.65 Z" fill="#ff5a36"/>
<rect x="380" y="459.1" width="217.55" height="47.50" fill="#00b0ab"/>
<path d="M591.55,459.1 H597.55 A23.75,23.75 0 0 1 597.55,506.6 H591.55 Z" fill="#00b0ab"/>
<path d="M376.05,459.45000000000005 H382.05 A23.40,23.40 0 0 1 382.05,506.25 H376.05 Z" fill="#009f9b"/>
<rect x="0" y="459.1" width="376.75" height="47.50" fill="#fdbf4f"/>
<path d="M370.75,459.1 H376.75 A23.75,23.75 0 0 1 376.75,506.6 H370.75 Z" fill="#fdbf4f"/>
<text transform="translate(57.18,495) scale(0.6892,1)" font-size="30.4" fill="#fffaf2" stroke="#fffaf2" stroke-width="0.6">2</text><text transform="translate(69.68,495) scale(0.6840,1)" font-size="30.4" fill="#fffaf2" stroke="#fffaf2" stroke-width="0.6">0</text><text transform="translate(82.19,495) scale(0.6774,1)" font-size="30.4" fill="#fffaf2" stroke="#fffaf2" stroke-width="0.6">0</text><text transform="translate(95.61,495) scale(0.5832,1)" font-size="30.4" fill="#fffaf2" stroke="#fffaf2" stroke-width="0.6">1</text>
<rect x="114.05" y="470" width="1.6" height="30.2" fill="#fff0cc"/>
<text x="126.9" y="478" font-size="9.6" fill="#fff5a0" stroke="#fff5a0" stroke-width="0.4" textLength="211.1" lengthAdjust="spacingAndGlyphs">LOREM IPSUM DOLOR SIT AMET, LOREM IPSUM DOLOR SIT AMET, CONSECTE-</text>
<text x="126.9" y="488" font-size="9.6" fill="#fff5a0" stroke="#fff5a0" stroke-width="0.4" textLength="206.1" lengthAdjust="spacingAndGlyphs">TUER ADIPISCING ELIT, SED DIAM NONUMMY NIBH EUISMOD TINCIDUNT UT</text>
<text x="126.9" y="498" font-size="9.6" fill="#fff5a0" stroke="#fff5a0" stroke-width="0.4" textLength="189.3" lengthAdjust="spacingAndGlyphs">LAOREET DOLORE MAGNA ALIQUAM ERAT VOLUTPAT. UT WISI ENIM A</text>
<text transform="translate(412.77,495) scale(0.7089,1)" font-size="30.4" fill="#fffaf2" stroke="#fffaf2" stroke-width="0.6">2</text><text transform="translate(425.38,495) scale(0.6840,1)" font-size="30.4" fill="#fffaf2" stroke="#fffaf2" stroke-width="0.6">0</text><text transform="translate(438.26,495) scale(0.5832,1)" font-size="30.4" fill="#fffaf2" stroke="#fffaf2" stroke-width="0.6">1</text><text transform="translate(449.96,495) scale(0.7154,1)" font-size="30.4" fill="#fffaf2" stroke="#fffaf2" stroke-width="0.6">2</text>
<rect x="469.3" y="470.3" width="1.6" height="30.0" fill="#d0f6f2"/>
<text x="482.0" y="478" font-size="9.6" fill="#7af9f0" stroke="#7af9f0" stroke-width="0.35" textLength="110.4" lengthAdjust="spacingAndGlyphs">LOREM IPSUM DOLOR SIT AMET, LOREM</text>
<text x="482.0" y="488" font-size="9.6" fill="#7af9f0" stroke="#7af9f0" stroke-width="0.35" textLength="113.4" lengthAdjust="spacingAndGlyphs">IPSUM DOLOR SIT AMET, CONSECTETUER</text>
<text x="482.0" y="498" font-size="9.6" fill="#7af9f0" stroke="#7af9f0" stroke-width="0.35" textLength="105.9" lengthAdjust="spacingAndGlyphs">ADIPISCING ELIT, SED DIAM NONUMMY</text>
<text transform="translate(644.27,495) scale(0.7023,1)" font-size="30.4" fill="#fffaf2" stroke="#fffaf2" stroke-width="0.6">2</text><text transform="translate(656.78,495) scale(0.6873,1)" font-size="30.4" fill="#fffaf2" stroke="#fffaf2" stroke-width="0.6">0</text><text transform="translate(669.17,495) scale(0.7023,1)" font-size="30.4" fill="#fffaf2" stroke="#fffaf2" stroke-width="0.6">2</text><text transform="translate(681.98,495) scale(0.6840,1)" font-size="30.4" fill="#fffaf2" stroke="#fffaf2" stroke-width="0.6">0</text>
<rect x="700.9" y="470.0" width="1.6" height="30.2" fill="#ffe6dc"/>
<path d="M710.7,484.7 H729.4 M722.6,480.7 L729.8,484.7 L722.8,488.8" stroke="#ffdcba" stroke-width="2.9" fill="none" stroke-linecap="round" stroke-linejoin="round"/>
</g>
</svg>
</body></html>
